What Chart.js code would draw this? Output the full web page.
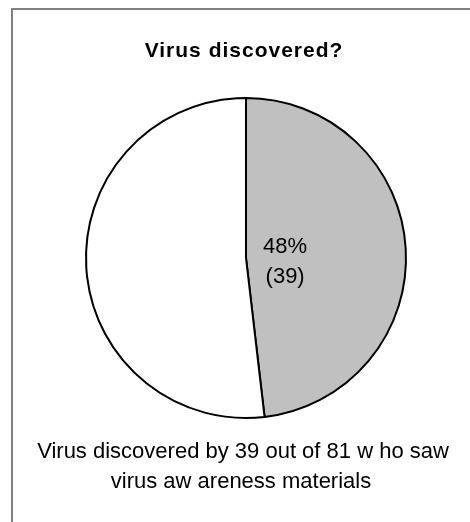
<!DOCTYPE html>
<html>
<head>
<meta charset="utf-8">
<script src="https://cdn.jsdelivr.net/npm/chart.js@4"></script>
<style>
  html, body { margin: 0; padding: 0; background: #ffffff; }
  #wrap { width: 470px; height: 522px; position: relative; }
</style>
</head>
<body>
<div id="wrap"><canvas id="c" width="470" height="522"></canvas></div>
<script>
const categories = ['Discovered', 'Not discovered'];
const counts = [39, 42];
const sliceColors = ['#C0C0C0', '#FFFFFF'];
const chartTitle = 'Virus discovered?';
const footerLines = ['Virus discovered by 39 out of 81 w ho saw', 'virus aw areness materials'];

const total = counts.reduce((a, b) => a + b, 0);

const framePlugin = {
  id: 'frame',
  afterDraw(chart) {
    const ctx = chart.ctx;
    ctx.save();
    ctx.strokeStyle = '#808080';
    ctx.lineWidth = 2;
    ctx.beginPath();
    ctx.moveTo(12, 522);
    ctx.lineTo(12, 9);
    ctx.lineTo(470, 9);
    ctx.stroke();
    // title
    ctx.fillStyle = '#000000';
    ctx.textAlign = 'center';
    ctx.textBaseline = 'alphabetic';
    ctx.font = 'bold 21px "Liberation Sans", Arial, sans-serif';
    if ('letterSpacing' in ctx) ctx.letterSpacing = '1px';
    ctx.fillText(chartTitle, 244, 57);
    if ('letterSpacing' in ctx) ctx.letterSpacing = '0px';
    // footer
    ctx.font = '22px "Liberation Sans", Arial, sans-serif';
    ctx.fillText(footerLines[0], 243, 458);
    ctx.fillText(footerLines[1], 241, 488);
    // slice label for first slice
    const meta = chart.getDatasetMeta(0);
    const arc = meta.data[0];
    const p = arc.getProps(['x', 'y', 'startAngle', 'endAngle', 'outerRadius']);
    const mid = (p.startAngle + p.endAngle) / 2;
    const r = p.outerRadius * 0.245;
    const lx = p.x + Math.cos(mid) * r;
    const ly = p.y + Math.sin(mid) * r;
    const pct = Math.round(counts[0] / total * 100) + '%';
    ctx.font = '22px "Liberation Sans", Arial, sans-serif';
    ctx.fillText(pct, lx, ly - 3);
    ctx.fillText('(' + counts[0] + ')', lx, ly + 27);
    ctx.restore();
  }
};

new Chart(document.getElementById('c'), {
  type: 'pie',
  data: {
    labels: categories,
    datasets: [{
      data: counts,
      backgroundColor: sliceColors,
      borderColor: '#000000',
      borderWidth: 2,
      borderAlign: 'center'
    }]
  },
  options: {
    responsive: false,
    animation: false,
    layout: { padding: { left: 85, right: 63, top: 97, bottom: 103 } },
    plugins: {
      legend: { display: false },
      tooltip: { enabled: false },
      title: { display: false }
    }
  },
  plugins: [framePlugin]
});
</script>
</body>
</html>
